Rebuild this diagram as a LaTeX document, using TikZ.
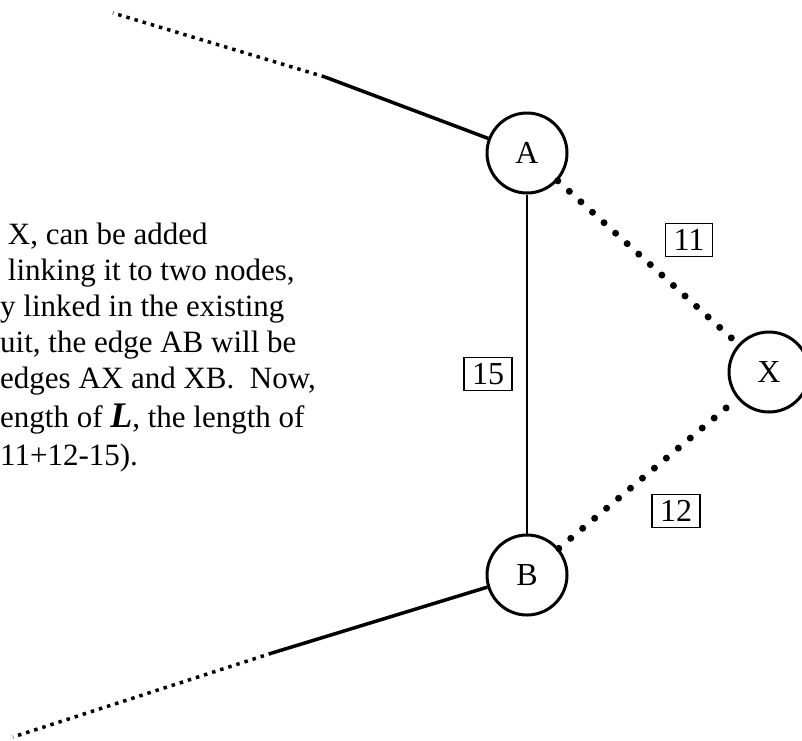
\documentclass[tikz,border=0pt]{standalone}
\usepackage{fontspec}
\setmainfont{Liberation Serif}
\usetikzlibrary{positioning}
\begin{document}
\begin{tikzpicture}[x=1pt,y=1pt,
	vertex/.style={draw, circle, line width=3pt, minimum size=80pt, inner sep=0pt, font=\fontsize{32}{32}\selectfont},
	weight/.style={draw, rectangle, line width=1.4pt, inner xsep=8pt, inner ysep=6pt, font=\fontsize{32}{32}\selectfont},
	oldlink/.style={line width=3.5pt},
	tail/.style={line width=3.5pt, dash pattern=on 3.5pt off 5pt},
	newlink/.style={line width=7pt, line cap=round, dash pattern=on 0pt off 15.6pt}]
	\useasboundingbox (0,0) rectangle (802,-740);
	\clip (0,0) rectangle (802,-740);
	\node (na) [vertex] at (527,-153) {A};
	\node (nb) [vertex, below of = na, node distance=422pt] {B};
	\node (nx) [vertex] at (769,-372) {X};
	\coordinate (ta) at (325,-77);
	\coordinate (ea) at (113,-13);
	\coordinate (tb) at (272,-653);
	\coordinate (eb) at (13,-737);
	\node (w11) [weight] at (689,-240) {11};
	\node (w12) [weight] at (676,-511) {12};
	\node (w15) [weight] at (488,-374) {15};
	\node (note) [anchor=north west, inner sep=0pt, align=left,
		font=\fontsize{31}{36}\selectfont] at (0,-223) {%
		\ X, can be added\\
		\ linking it to two nodes,\\
		y linked in the existing\\
		uit, the edge AB will be\\
		edges AX and XB.\ \ Now,\\[3pt]
		ength of {\fontsize{36}{36}\selectfont\bfseries\itshape L}, the length of\\[2pt]
		11+12-15).};
	\draw[oldlink] (na) -- (ta);
	\draw[tail] (ta) -- (ea);
	\draw[oldlink] (nb) -- (tb);
	\draw[tail] (tb) -- (eb);
	\draw[line width=1.5pt] (na) -- (nb);
	\draw[newlink] (na) -- (nx);
	\draw[newlink] (nb) -- (nx);
\end{tikzpicture}
\end{document}
